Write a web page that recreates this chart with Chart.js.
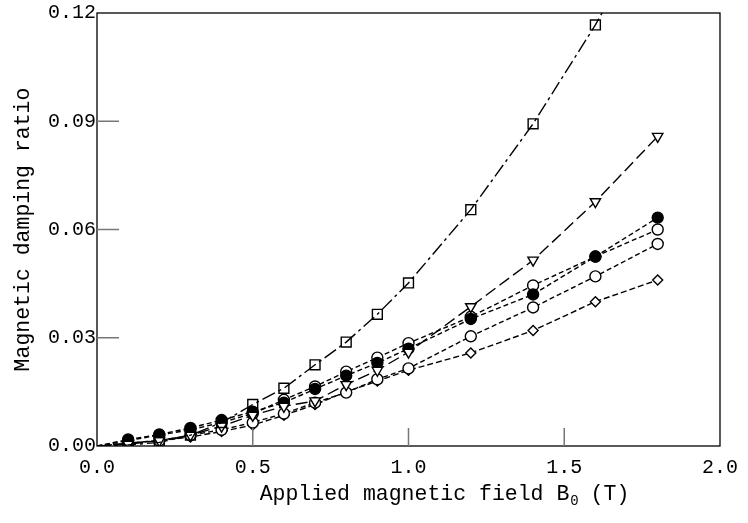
<!DOCTYPE html>
<html lang="en">
<head>
  <meta charset="UTF-8">
  <title>Magnetic damping ratio</title>
  <script src="https://cdn.jsdelivr.net/npm/chart.js"></script>
  <style>
    html, body { margin: 0; padding: 0; background: #fff; }
    #wrap { width: 748px; height: 523px; }
  </style>
</head>
<body>
  <div id="wrap"><canvas id="chart"></canvas></div>

  <script>
    // Applied magnetic field B0 (T)
    const fieldB = [0, 0.1, 0.2, 0.3, 0.4, 0.5, 0.6, 0.7, 0.8, 0.9, 1.0, 1.2, 1.4, 1.6, 1.8];

    // Magnetic damping ratio
    const squares    = [0, 0.0003, 0.001, 0.003, 0.0065, 0.0115, 0.016, 0.0225, 0.0288, 0.0365, 0.0452, 0.0655, 0.0893, 0.1167, 0.148];
    const triangles  = [0, 0.0005, 0.0015, 0.003, 0.0055, 0.0085, 0.011, 0.0125, 0.017, 0.021, 0.026, 0.0386, 0.0515, 0.0677, 0.0858];
    const dots       = [0, 0.0018, 0.0032, 0.005, 0.0072, 0.0095, 0.012, 0.0158, 0.0195, 0.023, 0.027, 0.0352, 0.042, 0.0525, 0.0633];
    const circlesHi  = [0, 0.0015, 0.003, 0.0045, 0.0065, 0.009, 0.0128, 0.0165, 0.0206, 0.0245, 0.0285, 0.0358, 0.0445, 0.0525, 0.060];
    const circlesLo  = [0, 0.0008, 0.0015, 0.003, 0.0045, 0.0065, 0.009, 0.012, 0.0148, 0.0185, 0.0215, 0.0304, 0.0384, 0.047, 0.056];
    const diamonds   = [0, 0.0008, 0.0015, 0.0025, 0.004, 0.0058, 0.0085, 0.0115, 0.015, 0.018, 0.021, 0.0258, 0.032, 0.040, 0.046];

    const xTicks = [0, 0.5, 1.0, 1.5, 2.0];
    const yTicks = [0, 0.03, 0.06, 0.09, 0.12];

    const FONT = "'Liberation Mono', 'Courier New', monospace";

    function pts(ys) {
      return ys.map((y, i) => ({ x: fieldB[i], y: y }));
    }
    // no marker at the origin
    function radii(r) {
      return fieldB.map(x => x === 0 ? 0 : r);
    }

    function series(ys, style, r, fill, dash, rot) {
      return {
        data: pts(ys),
        showLine: true,
        borderColor: "#000",
        borderWidth: 1.4,
        borderDash: dash,
        pointStyle: style,
        pointRadius: radii(r),
        pointRotation: rot || 0,
        pointBorderWidth: 1.4,
        pointBorderColor: "#000",
        pointBackgroundColor: fill,
        tension: 0
      };
    }

    // box round the plot plus inward ticks
    const frame = {
      id: "frame",
      afterDatasetsDraw(chart) {
        const { ctx, chartArea: a, scales } = chart;
        ctx.save();
        ctx.strokeStyle = "#000";
        ctx.lineWidth = 1.3;
        ctx.strokeRect(a.left, a.top, a.right - a.left, a.bottom - a.top);
        ctx.strokeStyle = "#777";
        ctx.lineWidth = 1.5;
        ctx.beginPath();
        xTicks.slice(1, -1).forEach(v => {
          const px = scales.x.getPixelForValue(v);
          ctx.moveTo(px, a.bottom);
          ctx.lineTo(px, a.bottom - 18);
        });
        yTicks.slice(1, -1).forEach(v => {
          const py = scales.y.getPixelForValue(v);
          ctx.moveTo(a.left, py);
          ctx.lineTo(a.left + 22, py);
        });
        ctx.stroke();

        // x axis title with subscript
        const y = a.bottom + 54;
        ctx.fillStyle = "#000";
        ctx.textBaseline = "alphabetic";
        ctx.font = "21.5px " + FONT;
        const p1 = "Applied magnetic field B";
        const p2 = " (T)";
        const w1 = ctx.measureText(p1).width;
        const w3 = ctx.measureText(p2).width;
        ctx.font = "14px " + FONT;
        const w2 = ctx.measureText("0").width;
        const total = w1 + w2 + w3;
        let x = (a.left + a.right) / 2 + 36 - total / 2;
        ctx.font = "21.5px " + FONT;
        ctx.fillText(p1, x, y);
        x += w1;
        ctx.font = "14px " + FONT;
        ctx.fillText("0", x + 1, y + 5);
        x += w2;
        ctx.font = "21.5px " + FONT;
        ctx.fillText(p2, x, y);
        ctx.restore();
      }
    };

    new Chart(document.getElementById("chart"), {
      type: "scatter",
      data: {
        datasets: [
          series(squares, "rect", 7, "transparent", [14, 4, 3, 4]),
          series(triangles, "triangle", 6, "#fff", [12, 5], 180),
          series(dots, "circle", 5.5, "#000", [5, 3]),
          series(circlesHi, "circle", 5.5, "#fff", [5, 3]),
          series(circlesLo, "circle", 5.5, "#fff", [5, 3]),
          series(diamonds, "rectRot", 5, "#fff", [6, 3])
        ]
      },
      options: {
        responsive: true,
        maintainAspectRatio: false,
        animation: false,
        layout: { padding: { top: 8, right: 20, left: 0, bottom: 0 } },
        plugins: {
          legend: { display: false },
          tooltip: { enabled: false }
        },
        scales: {
          x: {
            type: "linear",
            min: 0,
            max: 2,
            afterFit: s => { s.height = 77; },
            afterBuildTicks: s => { s.ticks = xTicks.map(v => ({ value: v })); },
            grid: { display: false, drawTicks: false },
            border: { display: false },
            ticks: {
              color: "#000",
              padding: 10,
              maxRotation: 0,
              font: { family: FONT, size: 20 },
              callback: v => v.toFixed(1)
            }
          },
          y: {
            type: "linear",
            min: 0,
            max: 0.12,
            afterFit: s => { s.width = 97; },
            afterBuildTicks: s => { s.ticks = yTicks.map(v => ({ value: v })); },
            grid: { display: false, drawTicks: false },
            border: { display: false },
            ticks: {
              color: "#000",
              padding: 1,
              font: { family: FONT, size: 20 },
              callback: v => v.toFixed(2)
            },
            title: {
              display: true,
              text: "Magnetic damping ratio",
              color: "#000",
              padding: { top: 10, bottom: 6 },
              font: { family: FONT, size: 21.5, weight: "normal" }
            }
          }
        }
      },
      plugins: [frame]
    });
  </script>
</body>
</html>
